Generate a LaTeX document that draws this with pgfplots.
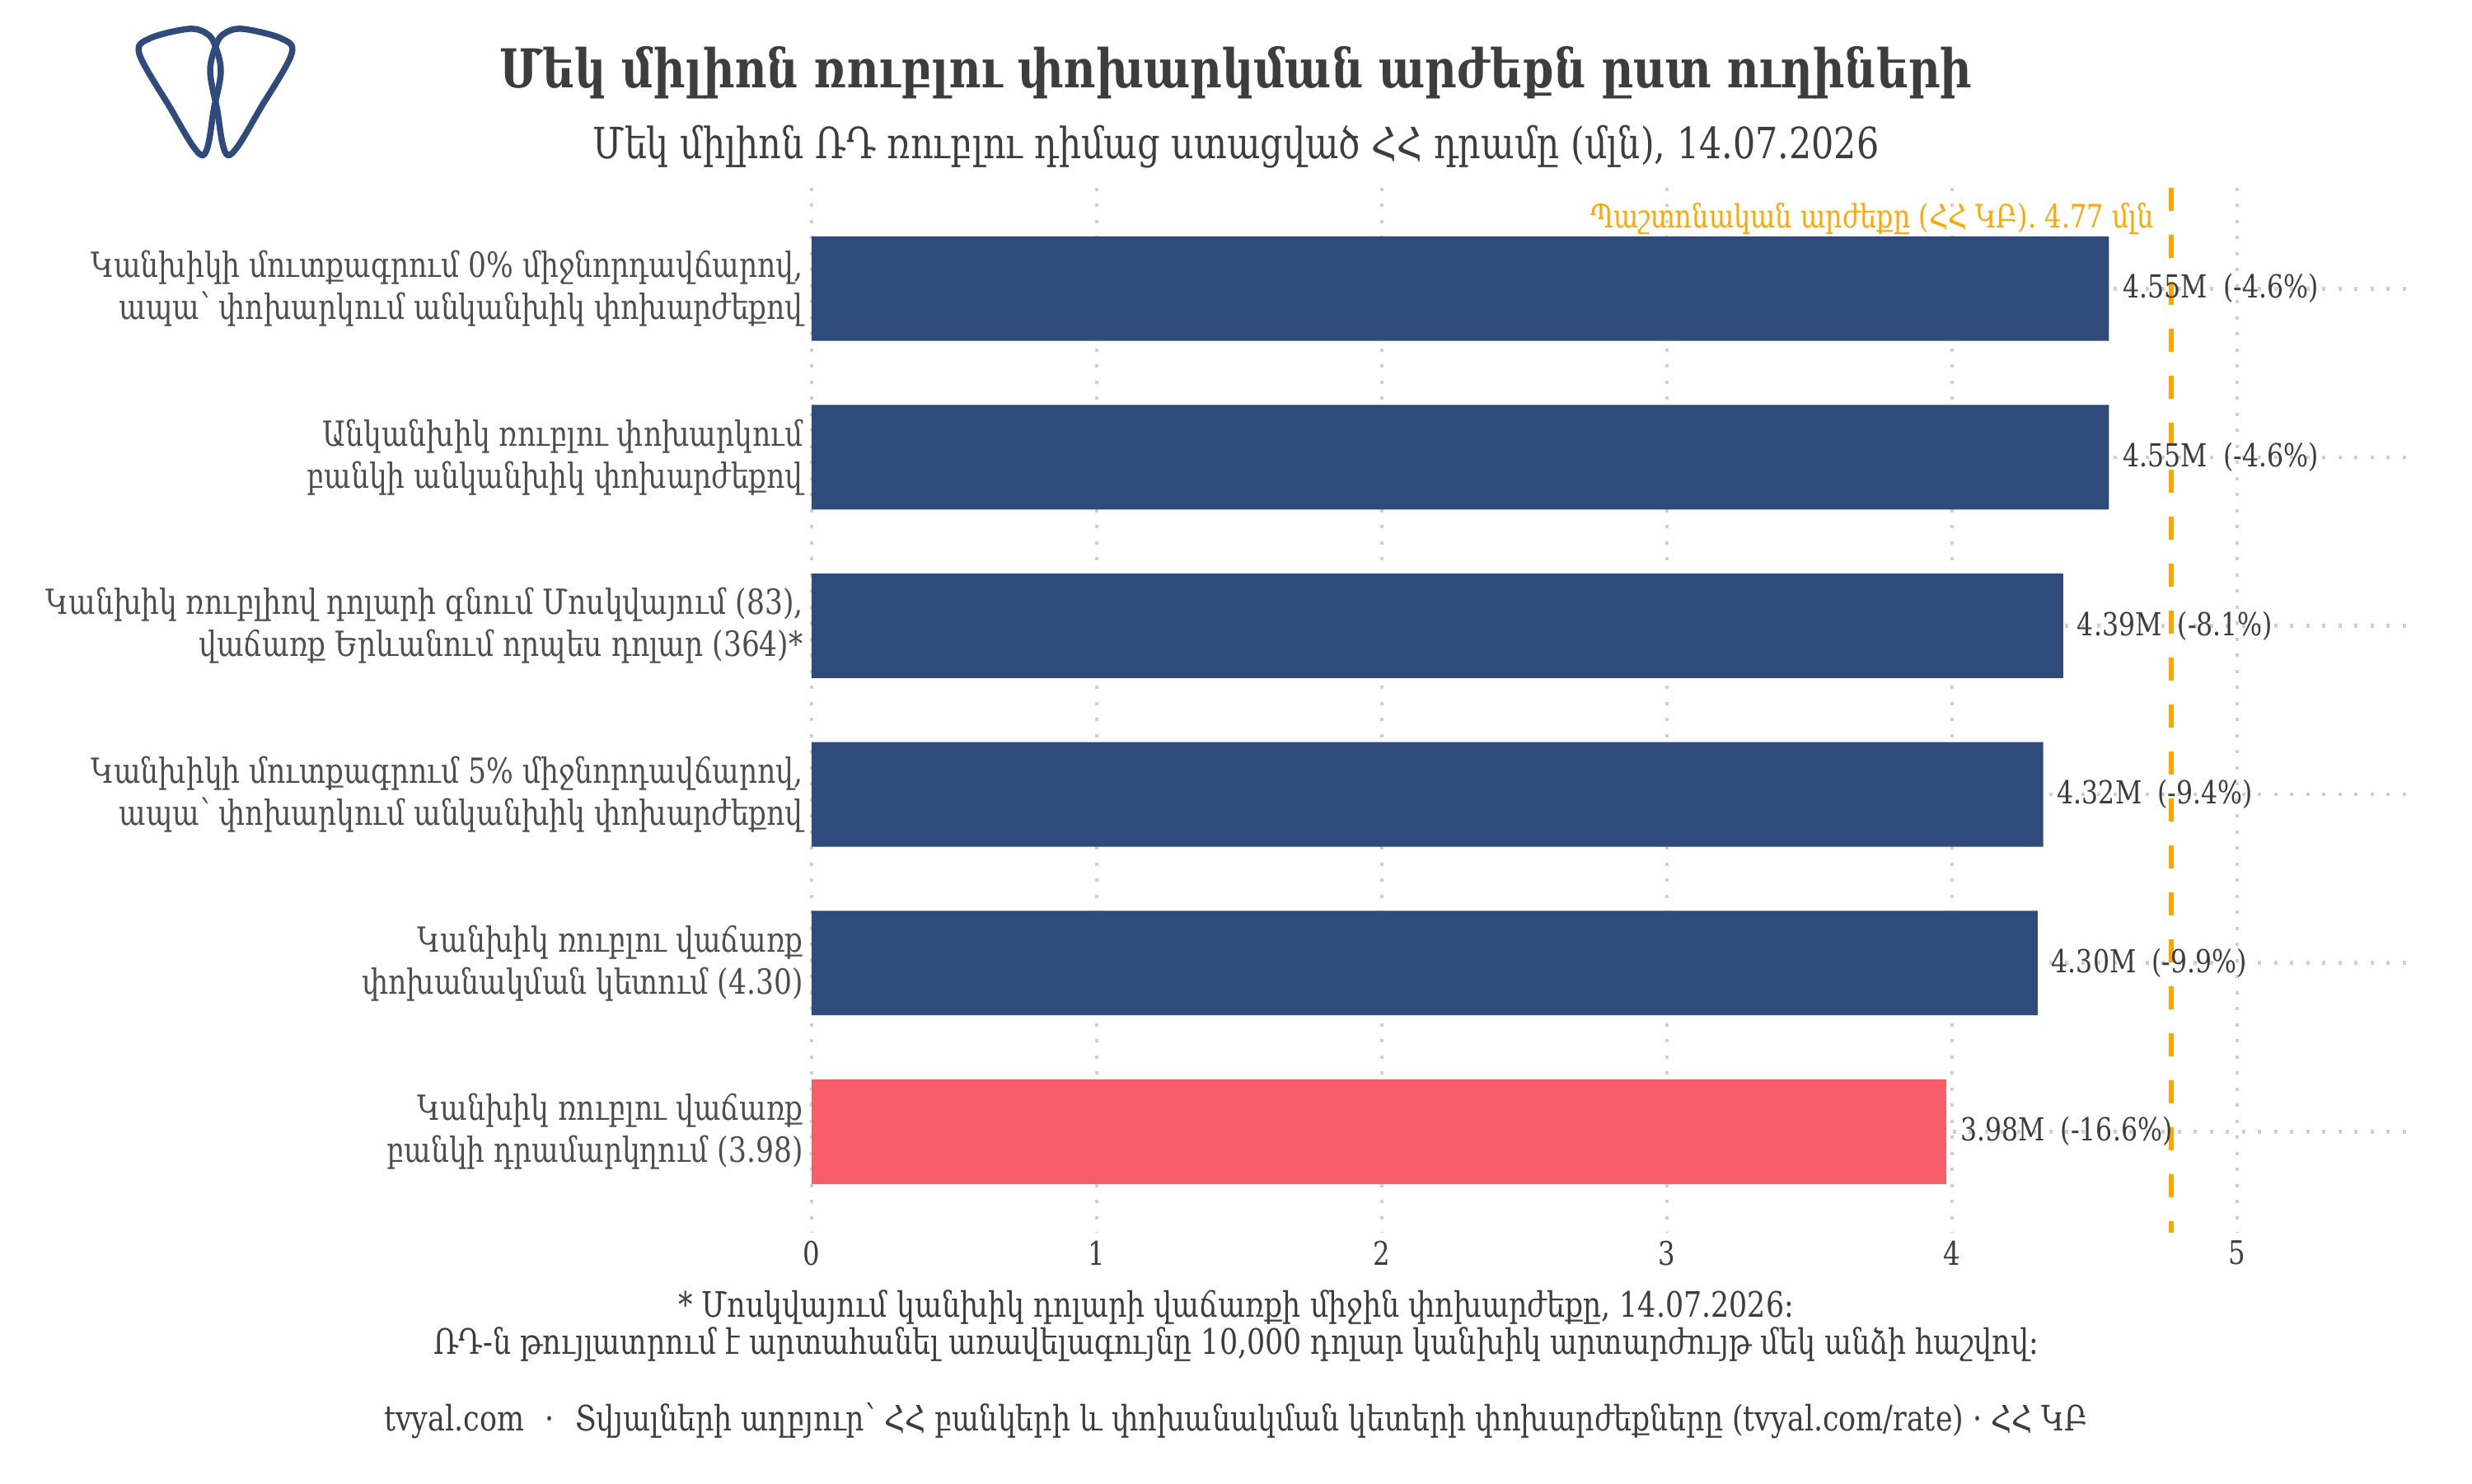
\documentclass[border=0pt]{standalone}
\usepackage{fontspec}
\setmainfont{DejaVu Serif}[FakeStretch=0.82]
\usepackage{pgfplots}
\pgfplotsset{compat=1.18}
\usepackage{pgfplotstable}

\definecolor{barblue}{HTML}{2F4B7C}
\definecolor{barred}{HTML}{F95D6A}
\definecolor{official}{HTML}{FFA600}
\definecolor{txt}{HTML}{3D3D3D}
\definecolor{txtlight}{HTML}{4D4D4D}
\definecolor{gridc}{HTML}{CFCFCF}

% Value of one million roubles in AMD (millions), by conversion route
\pgfplotstableread{
pos value pct
0 4.55 -4.6
1 4.55 -4.6
2 4.39 -8.1
3 4.32 -9.4
4 4.30 -9.9
}\routes
\pgfplotstableread{
pos value pct
5 3.98 -16.6
}\cashdesk
\def\officialrate{4.77}

\pgfplotsset{
  routebar/.style={
    draw=none, xbar, bar width=0.62, bar shift=0pt,
    point meta=x,
    visualization depends on={\thisrow{pct} \as \pctval},
    nodes near coords={\pgfmathprintnumber[fixed,fixed zerofill,precision=2]{\pgfplotspointmeta}M\hspace{0.5em}(\pgfmathprintnumber[fixed,precision=1]{\pctval}\%)},
    nodes near coords style={anchor=west, inner sep=1pt, xshift=2.2pt, text=txt,
      font=\fontsize{7.7}{9}\selectfont},
  },
}

\begin{document}
\begin{tikzpicture}[x=1pt,y=1pt]
\useasboundingbox (0,0) rectangle (600,360);

% logo
\begin{scope}[draw=barblue, line width=1.5pt, line join=round]
\draw plot[smooth cycle, tension=0.55] coordinates {
  (49.1,322.3) (40.8,334.7) (33.8,347) (36.4,350.7) (45.9,353)
  (50.4,351.7) (52.3,348.7) (53.6,342.7) (52.0,334)};
\draw plot[smooth cycle, tension=0.55] coordinates {
  (55.5,322.3) (63.8,334.7) (70.8,347) (68.2,350.7) (58.7,353)
  (54.2,351.7) (52.3,348.7) (51.0,342.7) (52.6,334)};
\end{scope}

% titles
\node[anchor=base, inner sep=0pt, text=txt, font=\bfseries\fontsize{13}{15}\selectfont]
  at (300,338.7) {Մեկ միլիոն ռուբլու փոխարկման արժեքն ըստ ուղիների};
\node[anchor=base, inner sep=0pt, text=txt, font=\fontsize{10.45}{12}\selectfont]
  at (300,321.5) {Մեկ միլիոն ՌԴ ռուբլու դիմաց ստացված ՀՀ դրամը (մլն), 14.07.2026};

\begin{axis}[
  at={(197pt,60.8pt)}, anchor=south west,
  scale only axis, width=389.6pt, height=253.7pt,
  xmin=0, xmax=5.63, ymin=-0.6, ymax=5.6, y dir=reverse,
  clip=false,
  axis line style={draw=none},
  major tick length=0pt,
  /pgf/number format/assume math mode=true,
  xtick={0,1,2,3,4,5},
  ytick={0,1,2,3,4,5},
  yticklabels={
    {Կանխիկի մուտքագրում 0\% միջնորդավճարով,\\ապա՝ փոխարկում անկանխիկ փոխարժեքով},
    {Անկանխիկ ռուբլու փոխարկում\\բանկի անկանխիկ փոխարժեքով},
    {Կանխիկ ռուբլիով դոլարի գնում Մոսկվայում (83),\\վաճառք Երևանում որպես դոլար (364)*},
    {Կանխիկի մուտքագրում 5\% միջնորդավճարով,\\ապա՝ փոխարկում անկանխիկ փոխարժեքով},
    {Կանխիկ ռուբլու վաճառք\\փոխանակման կետում (4.30)},
    {Կանխիկ ռուբլու վաճառք\\բանկի դրամարկղում (3.98)}},
  yticklabel style={align=right, inner sep=1.9pt, text=txtlight,
    font=\fontsize{8.4}{10.2}\selectfont},
  xticklabel style={inner sep=1.8pt, text=txt, font=\fontsize{7.9}{9}\selectfont},
  xmajorgrids, ymajorgrids,
  grid style={gridc, line width=0.9pt, dash pattern=on 0.8pt off 3.1pt},
]
\addplot[routebar, fill=barblue] table[x=value, y=pos] {\routes};
\addplot[routebar, fill=barred] table[x=value, y=pos] {\cashdesk};
\addplot[official, line width=1.2pt, dash pattern=on 5.7pt off 5.7pt, forget plot]
  coordinates {(\officialrate,-0.6) (\officialrate,5.6)};
\node[anchor=base east, inner sep=0pt, text=official, font=\fontsize{7.8}{9}\selectfont]
  at (axis cs:4.71,-0.36) {Պաշտոնական արժեքը (ՀՀ ԿԲ). \officialrate{} մլն};
\end{axis}

% notes and source
\node[anchor=base, inner sep=0pt, text=txt, font=\fontsize{8.5}{9}\selectfont]
  at (300,40.3) {* Մոսկվայում կանխիկ դոլարի վաճառքի միջին փոխարժեքը, 14.07.2026։};
\node[anchor=base, inner sep=0pt, text=txt, font=\fontsize{8.5}{9}\selectfont]
  at (300,31.3) {ՌԴ-ն թույլատրում է արտահանել առավելագույնը 10,000 դոլար կանխիկ արտարժույթ մեկ անձի հաշվով։};
\node[anchor=base, inner sep=0pt, text=txt, font=\fontsize{8.5}{9}\selectfont]
  at (300,12.7) {tvyal.com\hspace{0.6em}·\hspace{0.6em}Տվյալների աղբյուր՝ ՀՀ բանկերի և փոխանակման կետերի փոխարժեքները (tvyal.com/rate) · ՀՀ ԿԲ};
\end{tikzpicture}
\end{document}
